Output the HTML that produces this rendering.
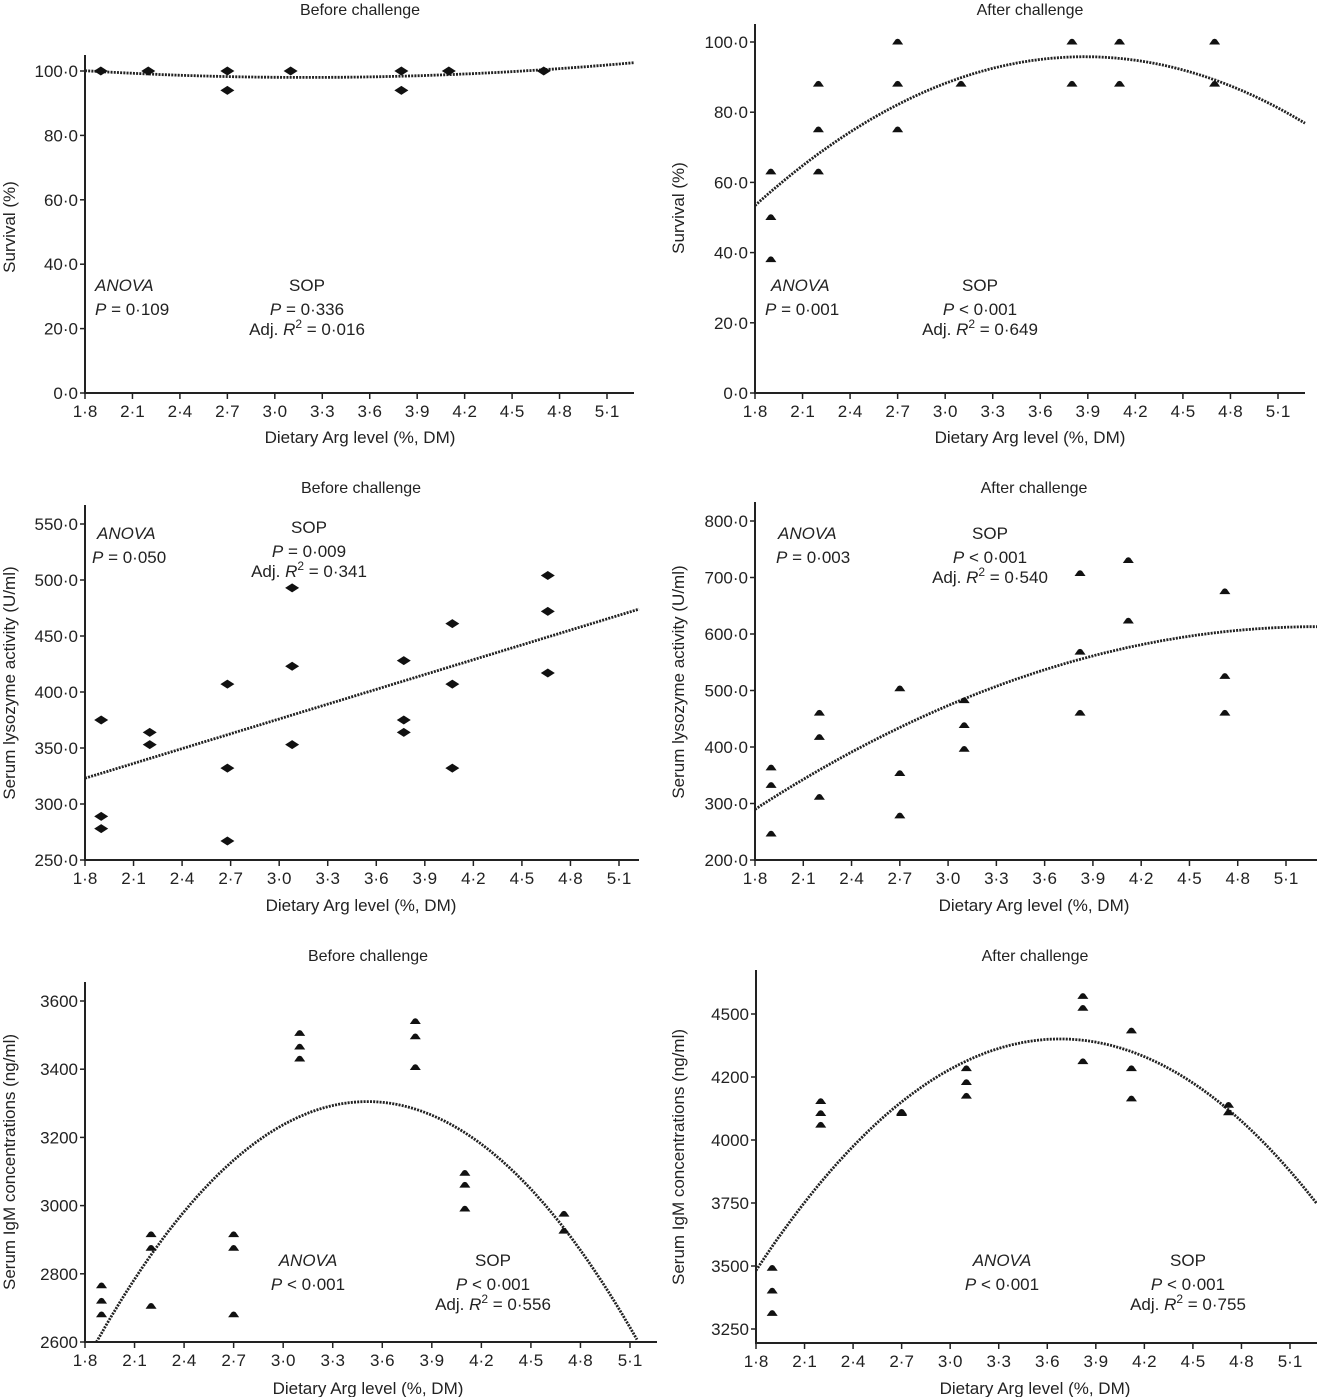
<!DOCTYPE html>
<html><head><meta charset="utf-8"><style>
html,body{margin:0;padding:0;background:#fff}
svg{display:block;font-family:"Liberation Sans",Arial,sans-serif}
</style></head><body>
<svg id="fig" width="1317" height="1397" viewBox="0 0 1317 1397"></svg>
<script>
// ---- data ----
const xTickLabels = ["1·8","2·1","2·4","2·7","3·0","3·3","3·6","3·9","4·2","4·5","4·8","5·1"];
const xTickValues = [1.8,2.1,2.4,2.7,3.0,3.3,3.6,3.9,4.2,4.5,4.8,5.1];

const p1X = [1.9,2.2,2.7,2.7,3.1,3.8,3.8,4.1,4.7];
const p1Y = [100,100,100,94,100,100,94,100,100];
const p1Fit = [98, 3.2, 1.07];            // vertex form k, h, a
const p1YTicks = [0,20,40,60,80,100];
const p1YLabels = ["0·0","20·0","40·0","60·0","80·0","100·0"];

const p2X = [1.9,1.9,1.9,2.2,2.2,2.2,2.7,2.7,2.7,3.1,3.8,3.8,4.1,4.1,4.7,4.7];
const p2Y = [63,50,38,88,75,63,100,88,75,88,100,88,100,88,100,88];
const p2Fit = [95.8, 3.88, -9.8];
const p2YTicks = [0,20,40,60,80,100];
const p2YLabels = ["0·0","20·0","40·0","60·0","80·0","100·0"];

const p3X = [1.9,1.9,1.9,2.2,2.2,2.68,2.68,2.68,3.08,3.08,3.08,3.77,3.77,3.77,4.07,4.07,4.07,4.66,4.66,4.66];
const p3Y = [375,289,278,364,353,407,332,267,493,423,353,428,375,364,461,407,332,504,472,417];
const p3Line = [323, 44.1];               // value at 1.8, slope
const p3YTicks = [250,300,350,400,450,500,550];
const p3YLabels = ["250·0","300·0","350·0","400·0","450·0","500·0","550·0"];

const p4X = [1.9,1.9,1.9,2.2,2.2,2.2,2.7,2.7,2.7,3.1,3.1,3.1,3.82,3.82,3.82,4.12,4.12,4.72,4.72,4.72];
const p4Y = [363,332,246,460,417,311,503,353,278,482,438,396,707,568,460,730,623,675,525,460];
const p4Fit = [613, 5.3, -26.4];
const p4YTicks = [200,300,400,500,600,700,800];
const p4YLabels = ["200·0","300·0","400·0","500·0","600·0","700·0","800·0"];

const p5X = [1.9,1.9,1.9,2.2,2.2,2.2,2.7,2.7,2.7,3.1,3.1,3.1,3.8,3.8,3.8,4.1,4.1,4.1,4.7,4.7];
const p5Y = [2765,2720,2680,2915,2875,2705,2915,2875,2680,3505,3465,3430,3540,3495,3405,3095,3060,2990,2975,2925];
const p5Fit = [3305, 3.51, -262];
const p5YTicks = [2600,2800,3000,3200,3400,3600];
const p5YLabels = ["2600","2800","3000","3200","3400","3600"];

const p6X = [1.9,1.9,1.9,2.2,2.2,2.2,2.7,2.7,3.1,3.1,3.1,3.82,3.82,3.82,4.12,4.12,4.12,4.72,4.72];
const p6Y = [3491,3401,3312,4153,4105,4059,4110,4105,4283,4228,4174,4570,4523,4311,4433,4283,4163,4138,4108];
const p6Fit = [4401, 3.68, -260];
const p6YTicks = [3250,3500,3750,4000,4250,4500];
const p6YLabels = ["3250","3500","3750","4000","4200","4500"];

// ---- layout ----
const NS="http://www.w3.org/2000/svg";
const svg=document.getElementById('fig');
function mk(tag,attrs,parent){const e=document.createElementNS(NS,tag);for(const k in attrs)e.setAttribute(k,attrs[k]);(parent||svg).appendChild(e);return e;}
const FS=17;

const panels=[
 {key:'survival-before',title:'Before challenge',ylab:'Survival (%)',xa:85,xb:607,xEnd:634,va:0,ya:393,vb:100,yb:71,axisTop:55,axisBot:393,
  titleX:360,titleY:15,xlabY:443,ylabX:15,ylabY:227,X:p1X,Y:p1Y,fit:p1Fit,ticks:p1YTicks,labels:p1YLabels,marker:'diamond',
  anova:{x:95,y:291,anchor:'start',p:'P = 0·109',px:95},sop:{x:307,y:291,p:['P',' = 0·336'],r:'0·016'}},
 {key:'survival-after',title:'After challenge',ylab:'Survival (%)',xa:755,xb:1278,xEnd:1305,va:0,ya:393,vb:100,yb:42,axisTop:24,axisBot:393,
  titleX:1030,titleY:15,xlabY:443,ylabX:684,ylabY:208,X:p2X,Y:p2Y,fit:p2Fit,ticks:p2YTicks,labels:p2YLabels,marker:'tri',
  anova:{x:771,y:291,anchor:'start',p:'P = 0·001',px:765},sop:{x:980,y:291,p:['P',' < 0·001'],r:'0·649'}},
 {key:'lysozyme-before',title:'Before challenge',ylab:'Serum lysozyme activity (U/ml)',xa:85,xb:619,xEnd:639,va:250,ya:860,vb:550,yb:524,axisTop:505,axisBot:860,
  titleX:361,titleY:493,xlabY:911,ylabX:15,ylabY:683,X:p3X,Y:p3Y,line:p3Line,ticks:p3YTicks,labels:p3YLabels,marker:'diamond',
  anova:{x:97,y:539,anchor:'start',p:'P = 0·050',px:92},sop:{x:309,y:533,p:['P',' = 0·009'],r:'0·341'}},
 {key:'lysozyme-after',title:'After challenge',ylab:'Serum lysozyme activity (U/ml)',xa:755,xb:1286,xEnd:1317,va:200,ya:860,vb:800,yb:521,axisTop:502,axisBot:860,
  titleX:1034,titleY:493,xlabY:911,ylabX:684,ylabY:682,X:p4X,Y:p4Y,fit:p4Fit,ticks:p4YTicks,labels:p4YLabels,marker:'tri',
  anova:{x:778,y:539,anchor:'start',p:'P = 0·003',px:776},sop:{x:990,y:539,p:['P',' < 0·001'],r:'0·540'}},
 {key:'igm-before',title:'Before challenge',ylab:'Serum IgM concentrations (ng/ml)',xa:85,xb:630,xEnd:657,va:2600,ya:1342,vb:3600,yb:1001,axisTop:982,axisBot:1342,
  titleX:368,titleY:961,xlabY:1394,ylabX:15,ylabY:1162,X:p5X,Y:p5Y,fit:p5Fit,ticks:p5YTicks,labels:p5YLabels,marker:'tri',
  anova:{x:308,y:1266,anchor:'middle',p:'P < 0·001',px:308},sop:{x:493,y:1266,p:['P',' < 0·001'],r:'0·556'}},
 {key:'igm-after',title:'After challenge',ylab:'Serum IgM concentrations (ng/ml)',xa:756,xb:1290,xEnd:1317,va:3250,ya:1329,vb:4500,yb:1014,axisTop:970,axisBot:1343,
  titleX:1035,titleY:961,xlabY:1394,ylabX:684,ylabY:1157,X:p6X,Y:p6Y,fit:p6Fit,ticks:p6YTicks,labels:p6YLabels,marker:'tri',
  anova:{x:1002,y:1266,anchor:'middle',p:'P < 0·001',px:1002},sop:{x:1188,y:1266,p:['P',' < 0·001'],r:'0·755'}}
];

panels.forEach(P=>{
  const g=mk('g',{});
  
  
  const xs=v=>P.xa+(v-1.8)*(P.xb-P.xa)/3.3;
  const ys=v=>P.ya+(v-P.va)*(P.yb-P.ya)/(P.vb-P.va);
  const xMaxVal=1.8+(P.xEnd-P.xa)*3.3/(P.xb-P.xa);
  const t=mk('text',{x:P.titleX,y:P.titleY,'text-anchor':'middle','font-size':16,fill:'#222'},g);t.textContent=P.title;
  
  const ax=mk('path',{d:`M${P.xa},${P.axisTop}V${P.axisBot}H${P.xEnd}`,fill:'none',stroke:'#222','stroke-width':2},g);
  
  xTickValues.forEach((v,i)=>{
    const x=xs(v);
    const tk=mk('line',{x1:x,x2:x,y1:P.axisBot,y2:P.axisBot+6,stroke:'#222','stroke-width':1.5},g);
    
    const lb=mk('text',{x:x,y:P.axisBot+24,'text-anchor':'middle','font-size':FS,fill:'#222'},g);lb.textContent=xTickLabels[i];
    
  });
  P.ticks.forEach((v,i)=>{
    const y=ys(v);
    const tk=mk('line',{x1:P.xa-5,x2:P.xa,y1:y,y2:y,stroke:'#222','stroke-width':1.5},g);
    
    const lb=mk('text',{x:P.xa-7,y:y+6,'text-anchor':'end','font-size':FS,fill:'#222'},g);lb.textContent=P.labels[i];
    
  });
  const xl=mk('text',{x:P.titleX,y:P.xlabY,'text-anchor':'middle','font-size':FS,fill:'#222'},g);
  xl.textContent='Dietary Arg level (%, DM)';
  
  const yl=mk('text',{x:0,y:0,transform:`translate(${P.ylabX},${P.ylabY}) rotate(-90)`,'text-anchor':'middle','font-size':FS,fill:'#222'},g);
  yl.textContent=P.ylab;
  
  let pts=[];
  for(let i=0;i<=200;i++){
    const x=1.8+(xMaxVal-1.8)*i/200;
    let y;
    if(P.line) y=P.line[0]+P.line[1]*(x-1.8);
    else y=P.fit[0]+P.fit[2]*(x-P.fit[1])*(x-P.fit[1]);
    const py=ys(y);
    if(py>P.axisBot+0.5) continue;
    pts.push(xs(x).toFixed(1)+','+py.toFixed(1));
  }
  const cv=mk('polyline',{points:pts.join(' '),fill:'none',stroke:'#222','stroke-width':2.8,'stroke-dasharray':'2 1.2'},g);
  
  P.X.forEach((xv,i)=>{
    const cx=xs(xv),cy=ys(P.Y[i]);
    let m;
    if(P.marker==='diamond') m=mk('path',{d:`M${cx-7},${cy}L${cx},${cy-4.5}L${cx+7},${cy}L${cx},${cy+4.5}Z`,fill:'#111'},g);
    else m=mk('path',{d:`M${cx-5.5},${cy+2.5}L${cx-2},${cy-2.5}Q${cx},${cy-4} ${cx+2},${cy-2.5}L${cx+5.5},${cy+2.5}Z`,fill:'#111'},g);
    
    
  });
  const A=P.anova;
  const a1=mk('text',{x:A.x,y:A.y,'text-anchor':A.anchor,'font-size':FS,'font-style':'italic',fill:'#222'},g);a1.textContent='ANOVA';
  
  const a2=mk('text',{x:A.px,y:A.y+24,'text-anchor':A.anchor,'font-size':FS,fill:'#222'},g);
  a2.innerHTML='<tspan font-style="italic">P</tspan>'+A.p.slice(1);
  
  const S=P.sop;
  const s1=mk('text',{x:S.x,y:S.y,'text-anchor':'middle','font-size':FS,fill:'#222'},g);s1.textContent='SOP';
  
  const s2=mk('text',{x:S.x,y:S.y+24,'text-anchor':'middle','font-size':FS,fill:'#222'},g);
  s2.innerHTML='<tspan font-style="italic">P</tspan>'+S.p[1];
  
  const s3=mk('text',{x:S.x,y:S.y+44,'text-anchor':'middle','font-size':FS,fill:'#222'},g);
  s3.innerHTML='Adj. <tspan font-style="italic">R</tspan><tspan dy="-7" font-size="12">2</tspan><tspan dy="7"> = '+S.r+'</tspan>';
  
});
</script>
</body></html>
